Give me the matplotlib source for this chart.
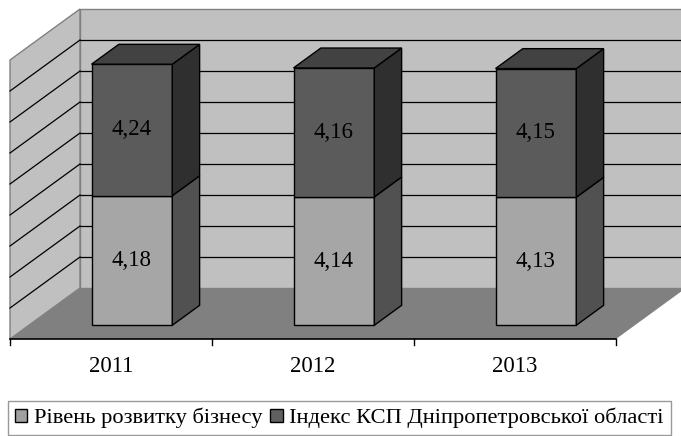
"""3D-style stacked bar chart (Excel look) drawn with plain matplotlib patches."""
import matplotlib
matplotlib.use("Agg")
import matplotlib.pyplot as plt
from matplotlib.patches import Polygon, Patch

years = ["2011", "2012", "2013"]
business_level = [4.18, 4.14, 4.13]
ksp_index = [4.24, 4.16, 4.15]
series_names = ["Рівень розвитку бізнесу", "Індекс КСП Дніпропетровської області"]

# layout (pixels of the 681x436 figure)
W, H = 681, 436
X0, SLOT = 10, 202          # left of floor front edge, width of one category slot
Y0, UNIT = 339, 31          # floor front edge, pixels per value unit
DEPTH_X, DEPTH_Y = 70, 51   # full oblique depth
VMAX = 9
BAR_LEFT, BAR_W = 0.31, 0.40
D_FRONT, D_BACK = 0.27, 0.66

DX = DEPTH_X / SLOT
DY = DEPTH_Y / UNIT

# colours
WALL = "#c0c0c0"
FLOOR = "#808080"
EDGE = "#808080"
C_LOW = ("#a6a6a6", "#515151", "#7a7a7a")   # front, side, top
C_HIGH = ("#5b5b5b", "#2f2f2f", "#424242")

FONT = "Liberation Serif"


def P(x, v, d=0.0):
    return (x + d * DX, v + d * DY)


fig = plt.figure(figsize=(W / 100, H / 100), dpi=100)
ax = fig.add_axes([0, 0, 1, 1])
ax.set_xlim(-X0 / SLOT, (W - X0) / SLOT)
ax.set_ylim((Y0 - H) / UNIT, Y0 / UNIT)
ax.axis("off")

n = len(years)

# walls and floor
ax.add_patch(Polygon([P(0, 0, 1), P(n, 0, 1), P(n, VMAX, 1), P(0, VMAX, 1)],
                     closed=True, fc=WALL, ec=EDGE, lw=1, zorder=1))
ax.add_patch(Polygon([P(0, 0, 0), P(0, 0, 1), P(0, VMAX, 1), P(0, VMAX, 0)],
                     closed=True, fc=WALL, ec=EDGE, lw=1, zorder=1))
ax.add_patch(Polygon([P(0, 0, 0), P(n, 0, 0), P(n, 0, 1), P(0, 0, 1)],
                     closed=True, fc=FLOOR, ec="none", lw=0, zorder=1))

# gridlines
for v in range(1, VMAX):
    xs, ys = zip(P(0, v, 1), P(n, v, 1))
    ax.plot(xs, ys, color="black", lw=0.9, zorder=2)
    xs, ys = zip(P(0, v, 0), P(0, v, 1))
    ax.plot(xs, ys, color="black", lw=0.9, zorder=2)

# category axis
ax.plot([0, n], [0, 0], color="black", lw=1.2, zorder=3)
for i in range(n + 1):
    ax.plot([i, i], [0, -6 / UNIT], color="black", lw=1.0, zorder=3)
for i, yr in enumerate(years):
    ax.text(i + 0.5, -27 / UNIT, yr, ha="center", va="center",
            fontsize=16.5, family=FONT, zorder=4)


def box(x0, x1, v0, v1, colors, top=True):
    front, side, topc = colors
    ax.add_patch(Polygon([P(x0, v0, D_FRONT), P(x1, v0, D_FRONT),
                          P(x1, v1, D_FRONT), P(x0, v1, D_FRONT)],
                         closed=True, fc=front, ec="black", lw=1, zorder=5))
    ax.add_patch(Polygon([P(x1, v0, D_FRONT), P(x1, v0, D_BACK),
                          P(x1, v1, D_BACK), P(x1, v1, D_FRONT)],
                         closed=True, fc=side, ec="black", lw=1, zorder=5))
    if top:
        ax.add_patch(Polygon([P(x0, v1, D_FRONT), P(x1, v1, D_FRONT),
                              P(x1, v1, D_BACK), P(x0, v1, D_BACK)],
                             closed=True, fc=topc, ec="black", lw=1, zorder=5))


for i in range(n):
    x0 = i + BAR_LEFT
    x1 = x0 + BAR_W
    lo, hi = business_level[i], ksp_index[i]
    box(x0, x1, 0, lo, C_LOW, top=False)
    box(x0, x1, lo, lo + hi, C_HIGH, top=True)
    cx, _ = P((x0 + x1) / 2, 0, D_FRONT)
    _, cy_lo = P(0, lo / 2, D_FRONT)
    _, cy_hi = P(0, lo + hi / 2, D_FRONT)
    ax.text(cx, cy_lo, f"{lo:.2f}".replace(".", ","), ha="center", va="center",
            fontsize=16.5, family=FONT, zorder=6)
    ax.text(cx, cy_hi, f"{hi:.2f}".replace(".", ","), ha="center", va="center",
            fontsize=16.5, family=FONT, zorder=6)

handles = [Patch(fc="#a0a0a0", ec="black", lw=1),
           Patch(fc="#606060", ec="black", lw=1)]
leg = fig.legend(handles, series_names, loc="upper left",
                 bbox_to_anchor=(8 / W, 1 - 401 / H), ncol=2, frameon=True,
                 fancybox=False, edgecolor=EDGE, borderaxespad=0,
                 handlelength=0.55, handleheight=0.55, handletextpad=0.3,
                 columnspacing=0.35, borderpad=0.3,
                 prop={"family": FONT, "size": 16.2})
leg.get_frame().set_linewidth(1)

fig.savefig("out.png", dpi=100)
